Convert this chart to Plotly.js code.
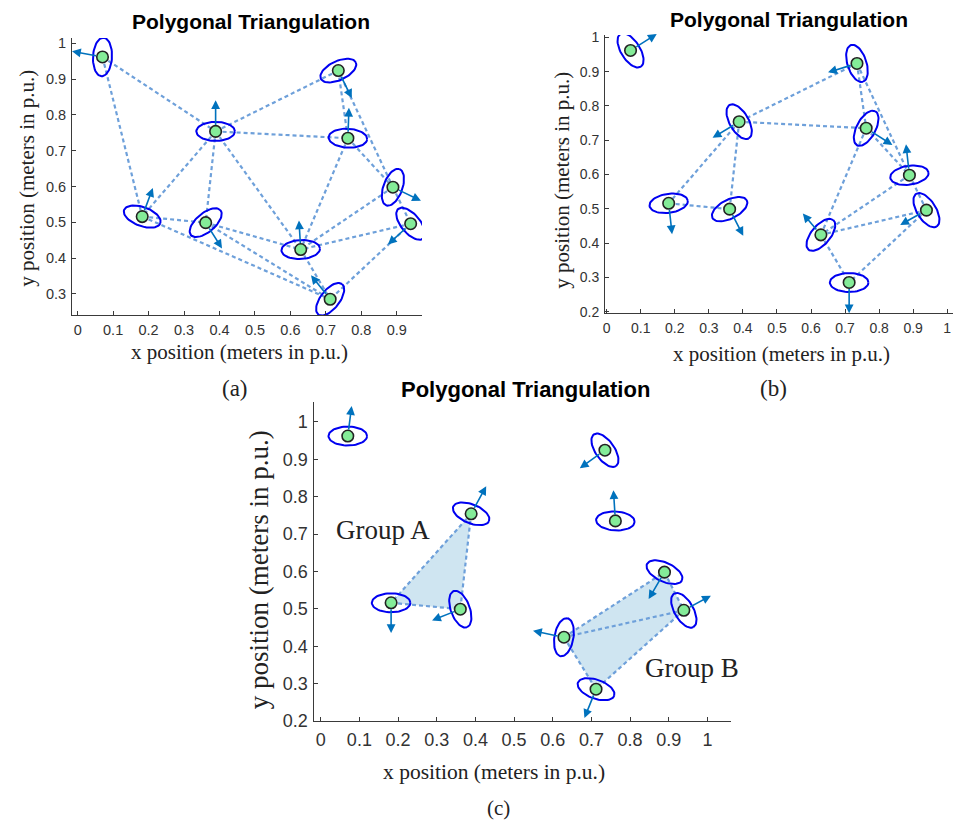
<!DOCTYPE html>
<html>
<head>
<meta charset="utf-8">
<script src="https://cdn.plot.ly/plotly-3.0.1.min.js"></script>
<style>
  html, body { margin: 0; padding: 0; background: #fff; }
  #chart { width: 955px; height: 823px; }
</style>
</head>
<body>
<div id="chart"></div>
<script>
// Node positions (meters in p.u.)
const nodeX = [0.070, 0.735, 0.389, 0.762, 0.889, 0.182, 0.361, 0.939, 0.629, 0.712];
const nodeY = [0.962, 0.924, 0.754, 0.735, 0.598, 0.516, 0.499, 0.496, 0.424, 0.285];

// Triangulation links (node index pairs) for each panel
const edgesA = [[0,2],[0,5],[1,2],[1,3],[1,4],[2,3],[2,5],[2,6],[2,8],[3,8],[3,4],
                [4,8],[4,7],[5,6],[5,9],[6,8],[6,9],[7,8],[7,9],[8,9]];
const edgesB = [[1,2],[1,3],[1,4],[2,3],[2,5],[2,6],[5,6],[3,4],[3,8],[4,8],[4,7],
                [7,8],[7,9],[8,9]];
const edgesC = [[2,5],[2,6],[5,6],[8,4],[8,7],[4,7],[8,9],[7,9]];

// Groups shaded in panel (c)
const groupA = [2, 5, 6];
const groupB = [8, 4, 7, 9];

// Uncertainty ellipse orientation (degrees) per node
const angA = [87, 25, 0, -3, 70, -20, 40, -50, 3, 52];
const angB = [-58, -72, -60, 62, 8, 8, 27, -58, 50, 0];
const angC = [0, -55, -22, -3, -25, 0, -70, -60, 80, -20];

// Heading vectors per node
const arrDxA = [-0.086, 0.038, 0.000, 0.003, 0.079, 0.030, 0.046, -0.064, -0.005, -0.054];
const arrDyA = [0.016, -0.077, 0.087, 0.085, -0.038, 0.080, -0.072, -0.058, 0.081, 0.067];
const arrDxB = [0.077, -0.085, -0.078, 0.077, -0.010, 0.010, 0.040, -0.077, -0.053, 0.000];
const arrDyB = [0.048, -0.026, -0.047, -0.049, 0.090, -0.090, -0.078, -0.043, 0.062, -0.090];
const arrDxC = [0.010, -0.065, 0.039, -0.005, -0.041, 0.000, -0.073, 0.070, -0.080, -0.030];
const arrDyC = [0.080, -0.048, 0.074, 0.082, -0.072, -0.081, -0.030, 0.039, 0.017, -0.077];

const W = 955, H = 823;
const panels = [
  { id: '',  xd: [72, 422],    yd: [38, 315],  xr: [-0.016, 0.971], yr: [0.241, 1.015],
    xt: [0, 0.1, 0.2, 0.3, 0.4, 0.5, 0.6, 0.7, 0.8, 0.9], yt: [0.3, 0.4, 0.5, 0.6, 0.7, 0.8, 0.9, 1],
    tf: 14.5, edges: edgesA, ang: angA, dx: arrDxA, dy: arrDyA },
  { id: '2', xd: [605, 953],   yd: [35, 313],  xr: [-0.005, 1.017], yr: [0.196, 1.007],
    xt: [0, 0.1, 0.2, 0.3, 0.4, 0.5, 0.6, 0.7, 0.8, 0.9, 1], yt: [0.2, 0.3, 0.4, 0.5, 0.6, 0.7, 0.8, 0.9, 1],
    tf: 14, edges: edgesB, ang: angB, dx: arrDxB, dy: arrDyB },
  { id: '3', xd: [314.3, 731], yd: [402, 721], xr: [-0.0166, 1.061], yr: [0.2, 1.053],
    xt: [0, 0.1, 0.2, 0.3, 0.4, 0.5, 0.6, 0.7, 0.8, 0.9, 1], yt: [0.2, 0.3, 0.4, 0.5, 0.6, 0.7, 0.8, 0.9, 1],
    tf: 18, edges: edgesC, ang: angC, dx: arrDxC, dy: arrDyC }
];

const EDGE_COLOR = 'rgb(110,160,218)';
const ELLIPSE_COLOR = '#0000F0';
const ARROW_COLOR = '#0072BD';
const SEMI_MAJOR = 19.3, SEMI_MINOR = 9.5;   // px

const traces = [];
const annotations = [];
const layout = {
  width: W, height: H,
  margin: { l: 0, r: 0, t: 0, b: 0 },
  paper_bgcolor: '#fff', plot_bgcolor: 'rgba(0,0,0,0)',
  showlegend: false,
  hovermode: false
};

panels.forEach(p => {
  const xa = 'x' + p.id, ya = 'y' + p.id;
  const sx = (p.xd[1] - p.xd[0]) / (p.xr[1] - p.xr[0]);
  const sy = (p.yd[1] - p.yd[0]) / (p.yr[1] - p.yr[0]);

  const axisCommon = {
    showgrid: false, zeroline: false, showline: true, linecolor: '#3a3a3a', linewidth: 1,
    ticks: 'inside', ticklen: 4, tickcolor: '#3a3a3a', tickmode: 'array',
    tickfont: { family: 'Liberation Sans, Arial, sans-serif', size: p.tf, color: '#333' }
  };
  layout['xaxis' + p.id] = Object.assign({}, axisCommon, {
    domain: [p.xd[0] / W, p.xd[1] / W], range: p.xr, tickvals: p.xt,
    ticktext: p.xt.map(String), anchor: ya, ticklabelstandoff: 2
  });
  layout['yaxis' + p.id] = Object.assign({}, axisCommon, {
    domain: [1 - p.yd[1] / H, 1 - p.yd[0] / H], range: p.yr, tickvals: p.yt,
    ticktext: p.yt.map(String), anchor: xa, ticklabelstandoff: 2
  });

  // shaded groups (panel c)
  if (p.id === '3') {
    [groupA, groupB].forEach(g => {
      traces.push({
        type: 'scatter', mode: 'lines', xaxis: xa, yaxis: ya,
        x: g.map(i => nodeX[i]).concat([nodeX[g[0]]]),
        y: g.map(i => nodeY[i]).concat([nodeY[g[0]]]),
        fill: 'toself', fillcolor: 'rgba(160,203,227,0.5)', line: { width: 0 }
      });
    });
  }

  // triangulation links
  const ex = [], ey = [];
  p.edges.forEach(([a, b]) => {
    ex.push(nodeX[a], nodeX[b], null);
    ey.push(nodeY[a], nodeY[b], null);
  });
  traces.push({
    type: 'scatter', mode: 'lines', xaxis: xa, yaxis: ya, x: ex, y: ey,
    line: { color: EDGE_COLOR, width: 2.2, dash: '4px,3px' }
  });

  // uncertainty ellipses
  const elx = [], ely = [];
  nodeX.forEach((cx, i) => {
    const th = p.ang[i] * Math.PI / 180;
    for (let k = 0; k <= 60; k++) {
      const t = 2 * Math.PI * k / 60;
      const ux = SEMI_MAJOR * Math.cos(t), uy = SEMI_MINOR * Math.sin(t);
      elx.push(cx + (ux * Math.cos(th) - uy * Math.sin(th)) / sx);
      ely.push(nodeY[i] + (ux * Math.sin(th) + uy * Math.cos(th)) / sy);
    }
    elx.push(null); ely.push(null);
  });
  traces.push({
    type: 'scatter', mode: 'lines', xaxis: xa, yaxis: ya, x: elx, y: ely,
    line: { color: ELLIPSE_COLOR, width: 2 }
  });

  // nodes
  traces.push({
    type: 'scatter', mode: 'markers', xaxis: xa, yaxis: ya, x: nodeX, y: nodeY,
    marker: { size: 11.5, color: '#84EC98', line: { color: '#222', width: 1.6 } },
    cliponaxis: false
  });

  // heading arrows
  nodeX.forEach((cx, i) => {
    annotations.push({
      xref: xa, yref: ya, axref: xa, ayref: ya,
      x: cx + p.dx[i], y: nodeY[i] + p.dy[i], ax: cx, ay: nodeY[i],
      text: '', showarrow: true, arrowhead: 2, arrowsize: 1.1, arrowwidth: 1.6,
      arrowcolor: ARROW_COLOR, startstandoff: 5, standoff: 0
    });
  });
});

// Titles, axis titles and panel labels
const serif = 'Liberation Serif, Times New Roman, serif';
const sansBold = 'Liberation Sans, Arial, sans-serif';
function paperText(text, px, py, font, angle) {
  annotations.push({
    xref: 'paper', yref: 'paper', x: px / W, y: 1 - py / H,
    xanchor: 'center', yanchor: 'middle', text: text, showarrow: false,
    font: font, textangle: angle || 0, borderpad: 0
  });
}
const titleFont = { family: sansBold, size: 21, color: '#000' };
paperText('<b>Polygonal Triangulation</b>', 250.8, 21.7, titleFont);
paperText('<b>Polygonal Triangulation</b>', 789, 20, titleFont);
paperText('<b>Polygonal Triangulation</b>', 525, 389, { family: sansBold, size: 22, color: '#000' });

const axFont = { family: serif, size: 21, color: '#222' };
paperText('x position (meters in p.u.)', 239, 351.7, axFont);
paperText('y position (meters in p.u.)', 26.7, 178, axFont, -90);
paperText('x position (meters in p.u.)', 781.7, 354, axFont);
paperText('y position (meters in p.u.)', 561.7, 180, axFont, -90);
paperText('x position (meters in p.u.)', 494, 771.7, { family: serif, size: 21.5, color: '#222' });
paperText('y position (meters in p.u.)', 259.3, 570, { family: serif, size: 27, color: '#222' }, -90);

const lblFont = { family: serif, size: 23, color: '#222' };
paperText('(a)', 235, 388, lblFont);
paperText('(b)', 773.3, 388, lblFont);
paperText('(c)', 498.3, 808, { family: serif, size: 21, color: '#222' });

// Group labels (data coordinates of panel c)
const groupLabels = ['Group A', 'Group B'];
const groupLabelX = [0.161, 0.959];
const groupLabelY = [0.71, 0.341];
groupLabels.forEach((t, i) => {
  annotations.push({
    xref: 'x3', yref: 'y3', x: groupLabelX[i], y: groupLabelY[i],
    xanchor: 'center', yanchor: 'middle', text: t, showarrow: false,
    font: { family: serif, size: 27, color: '#222' }
  });
});

layout.annotations = annotations;
Plotly.newPlot('chart', traces, layout, { staticPlot: true, displayModeBar: false });
</script>
</body>
</html>
